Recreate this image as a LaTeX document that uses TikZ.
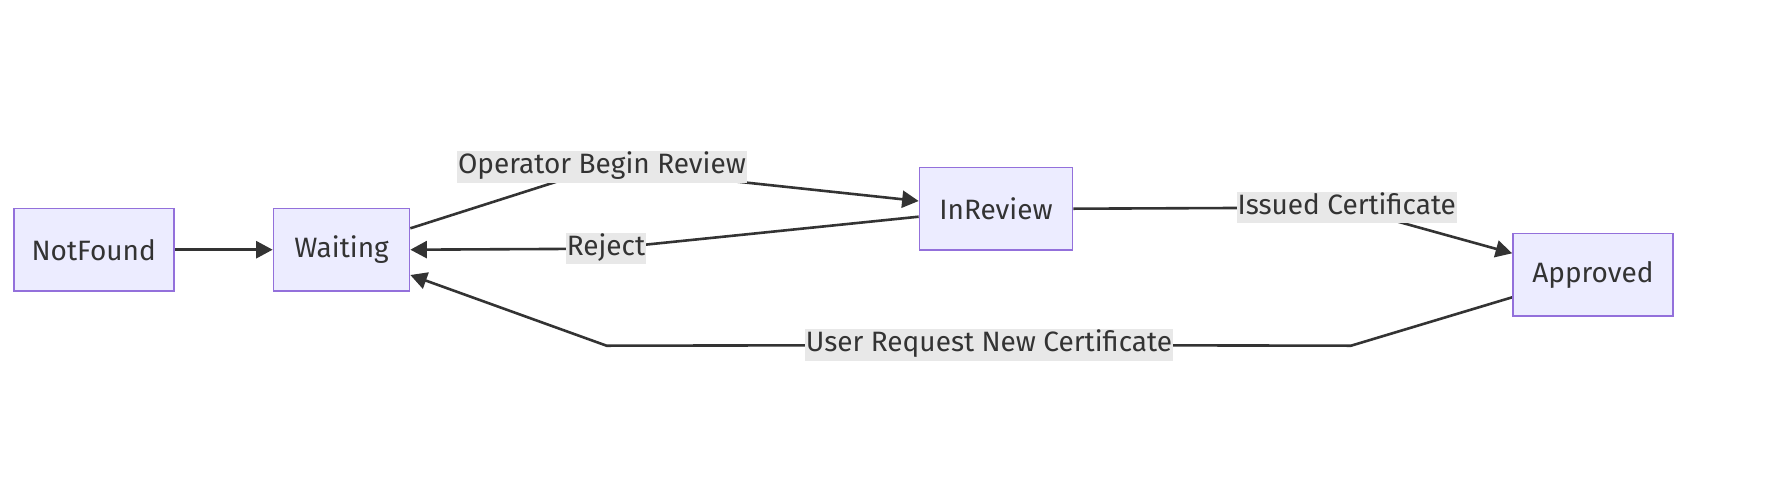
\documentclass[tikz,border=0pt]{standalone}
\usepackage{fontspec}
\setmainfont{Fira Sans}
\usetikzlibrary{arrows.meta,backgrounds,calc}
\definecolor{nodefill}{HTML}{ECECFF}
\definecolor{nodeline}{HTML}{9370DB}
\definecolor{edgecol}{HTML}{333333}
\definecolor{lblbg}{HTML}{E8E8E8}
\definecolor{txt}{HTML}{333333}
\begin{document}
\begin{tikzpicture}[x=1pt,y=-1pt,
  state/.style={draw=nodeline, fill=nodefill, line width=1.7pt, minimum height=82.7pt,
    inner sep=0pt, text=txt, font=\fontsize{28}{33}\selectfont},
  elabel/.style={fill=lblbg, inner xsep=1pt, inner ysep=0pt, minimum height=31.5pt,
    text height=19pt, text depth=6pt, text=txt, font=\fontsize{28}{33}\selectfont},
  conn/.style={draw=edgecol, line width=2.6pt},
  arr/.style={conn, -{Triangle[length=16.5pt,width=17pt]}}
]
\useasboundingbox (0,0) rectangle (1768,488);
\node[state, minimum width=160pt] (notfound) at (93.7,249.7) {NotFound};
\node[state, minimum width=136pt] (waiting) at (341.5,249.7) {Waiting};
\node[state, minimum width=153pt] (inreview) at (996,208.7) {InReview};
\node[state, minimum width=160pt] (approved) at (1593,274.7) {Approved};

\node[elabel] (oplbl) at (602,167.2) {Operator Begin Review};
\node[elabel] (rejlbl) at (606,248.7) {Reject};
\node[elabel] (isslbl) at (1346.7,207.5) {Issued Certificate};
\node[elabel] (usrlbl) at (989,345) {User Request New Certificate};

\coordinate (ubendR) at (1351,345.7);
\coordinate (ubendL) at (606.6,345.7);

\begin{pgfonlayer}{background}
\draw[arr] (notfound) -- (waiting);
\draw[arr] ([yshift=21.4pt]waiting.east) -- (oplbl.center) -- ([yshift=7.7pt]inreview.west);
\draw[arr] ([yshift=-8pt]inreview.west) -- (rejlbl.center) -- (waiting.east);
\draw[arr] (inreview.east) -- (isslbl.center) -- ([yshift=21.4pt]approved.west);
\draw[arr] ([yshift=-22.6pt]approved.west) -- (ubendR) -- (usrlbl.center) -- (ubendL) -- ([yshift=-25.3pt]waiting.east);
\end{pgfonlayer}
\end{tikzpicture}
\end{document}
